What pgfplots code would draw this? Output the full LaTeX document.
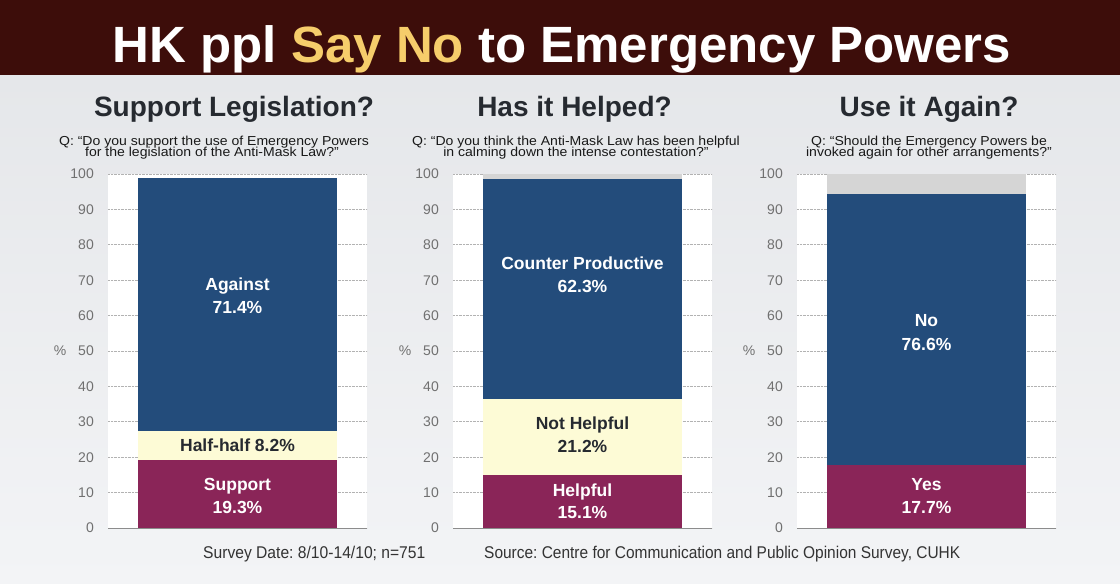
\documentclass[border=0pt]{standalone}
\usepackage{pgfplots}
\pgfplotsset{compat=1.18}
\usepackage{fontspec}
\setmainfont{Liberation Sans}
\frenchspacing
\definecolor{barblue}{HTML}{234C7B}
\definecolor{barmaroon}{HTML}{8A2558}
\definecolor{barcream}{HTML}{FDFBD6}
\definecolor{bargray}{HTML}{D5D5D5}
\definecolor{titlebar}{HTML}{3D0D0A}
\definecolor{titleyellow}{HTML}{F6CD6B}
\definecolor{bgtop}{HTML}{E3E5E8}
\definecolor{bgbot}{HTML}{F3F4F6}
\definecolor{darktext}{HTML}{262A30}
\definecolor{tickgray}{HTML}{707070}
\definecolor{foottext}{HTML}{333333}
\newcommand{\fs}[2]{\fontsize{#1}{#2}\selectfont}
\pgfplotsset{panel/.style={
  scale only axis, width=259pt, height=354pt, anchor=south west,
  xmin=0, xmax=1, ymin=0, ymax=100,
  ybar stacked, bar width=199pt,
  axis background/.style={fill=white},
  axis line style={draw=none},
  xtick=\empty, ytick={0,10,...,100},
  major tick length=0pt,
  ymajorgrids, grid style={densely dotted, black!30, line width=0.6pt},
  yticklabel style={font=\fs{14}{14}, text=tickgray, inner sep=0pt, anchor=east, xshift=-14pt},
  /pgf/number format/assume math mode=true,
  ylabel={\%},
  every axis y label/.style={at={(ticklabel cs:0.5)}, anchor=east, inner sep=0pt, xshift=-4pt, font=\fs{14}{14}, text=tickgray},
  clip=false,
}}
\tikzset{
  bl/.style={anchor=base, inner sep=0pt, font=\bfseries\fs{17.5}{17.5}, text=white},
  bld/.style={bl, text=darktext},
  sub/.style={anchor=base, inner sep=0pt, font=\fs{13}{13}, text=black!90},
  ptitle/.style={anchor=base, font=\bfseries\fs{28}{28}, text=darktext, inner sep=0pt},
}
\newcommand{\sx}[1]{\scalebox{1.08}[1]{#1}}
\begin{document}
\begin{tikzpicture}[x=1pt,y=1pt]
\shade[top color=bgtop, bottom color=bgbot] (0,0) rectangle (1120,584);
\fill[titlebar] (0,509) rectangle (1120,584);
\node[anchor=base, text=white, font=\bfseries\fs{51}{51}, inner sep=0pt] at (562,521) {HK ppl \textcolor{titleyellow}{Say No} to Emergency Powers};

% panel titles
\node[ptitle] at (234,467) {Support Legislation?};
\node[ptitle] at (574.5,467) {Has it Helped?};
\node[ptitle] at (929,467) {Use it Again?};

% subtitles
\node[sub] at (214,438.3) {\sx{Q: “Do you support the use of Emergency Powers}};
\node[sub] at (212,427.4) {\sx{for the legislation of the Anti-Mask Law?”}};
\node[sub] at (576,438.3) {\sx{Q: “Do you think the Anti-Mask Law has been helpful}};
\node[sub] at (576,427.4) {\sx{in calming down the intense contestation?”}};
\node[sub] at (929,438.3) {\sx{Q: “Should the Emergency Powers be}};
\node[sub] at (929,427.4) {\sx{invoked again for other arrangements?”}};

% Panel 1
\begin{axis}[panel, at={(108pt,56pt)}]
\addplot[fill=barmaroon, draw=none] coordinates {(0.5,19.3)};
\addplot[fill=barcream, draw=none] coordinates {(0.5,8.2)};
\addplot[fill=barblue, draw=none] coordinates {(0.5,71.4)};
\draw[black!45, line width=0.8pt] (rel axis cs:0,0) -- (rel axis cs:1,0);
\end{axis}

% Panel 2
\begin{axis}[panel, at={(453pt,56pt)}]
\addplot[fill=barmaroon, draw=none] coordinates {(0.5,15.1)};
\addplot[fill=barcream, draw=none] coordinates {(0.5,21.2)};
\addplot[fill=barblue, draw=none] coordinates {(0.5,62.3)};
\addplot[fill=bargray, draw=none] coordinates {(0.5,1.4)};
\draw[black!45, line width=0.8pt] (rel axis cs:0,0) -- (rel axis cs:1,0);
\end{axis}

% Panel 3
\begin{axis}[panel, at={(797pt,56pt)}]
\addplot[fill=barmaroon, draw=none] coordinates {(0.5,17.7)};
\addplot[fill=barblue, draw=none] coordinates {(0.5,76.6)};
\addplot[fill=bargray, draw=none] coordinates {(0.5,5.7)};
\draw[black!45, line width=0.8pt] (rel axis cs:0,0) -- (rel axis cs:1,0);
\end{axis}

% bar labels
\node[bl] at (237.5,293) {Against};
\node[bl] at (237.5,270) {71.4\%};
\node[bld] at (237.5,132) {Half-half 8.2\%};
\node[bl] at (237.5,93) {Support};
\node[bl] at (237.5,70) {19.3\%};

\node[bl] at (582.5,314) {Counter Productive};
\node[bl] at (582.5,291) {62.3\%};
\node[bld] at (582.5,154) {Not Helpful};
\node[bld] at (582.5,131) {21.2\%};
\node[bl] at (582.5,87) {Helpful};
\node[bl] at (582.5,65) {15.1\%};

\node[bl] at (926.5,257) {No};
\node[bl] at (926.5,233) {76.6\%};
\node[bl] at (926.5,93) {Yes};
\node[bl] at (926.5,70) {17.7\%};

% footer
\node[anchor=base west, font=\fs{17}{17}, text=foottext, inner sep=0pt] at (203,25) {\scalebox{0.92}[1]{Survey Date: 8/10-14/10; n=751}};
\node[anchor=base west, font=\fs{17}{17}, text=foottext, inner sep=0pt] at (484,25) {\scalebox{0.91}[1]{Source: Centre for Communication and Public Opinion Survey, CUHK}};

\pgfresetboundingbox
\path (0,0) rectangle (1120,584);
\end{tikzpicture}
\end{document}
